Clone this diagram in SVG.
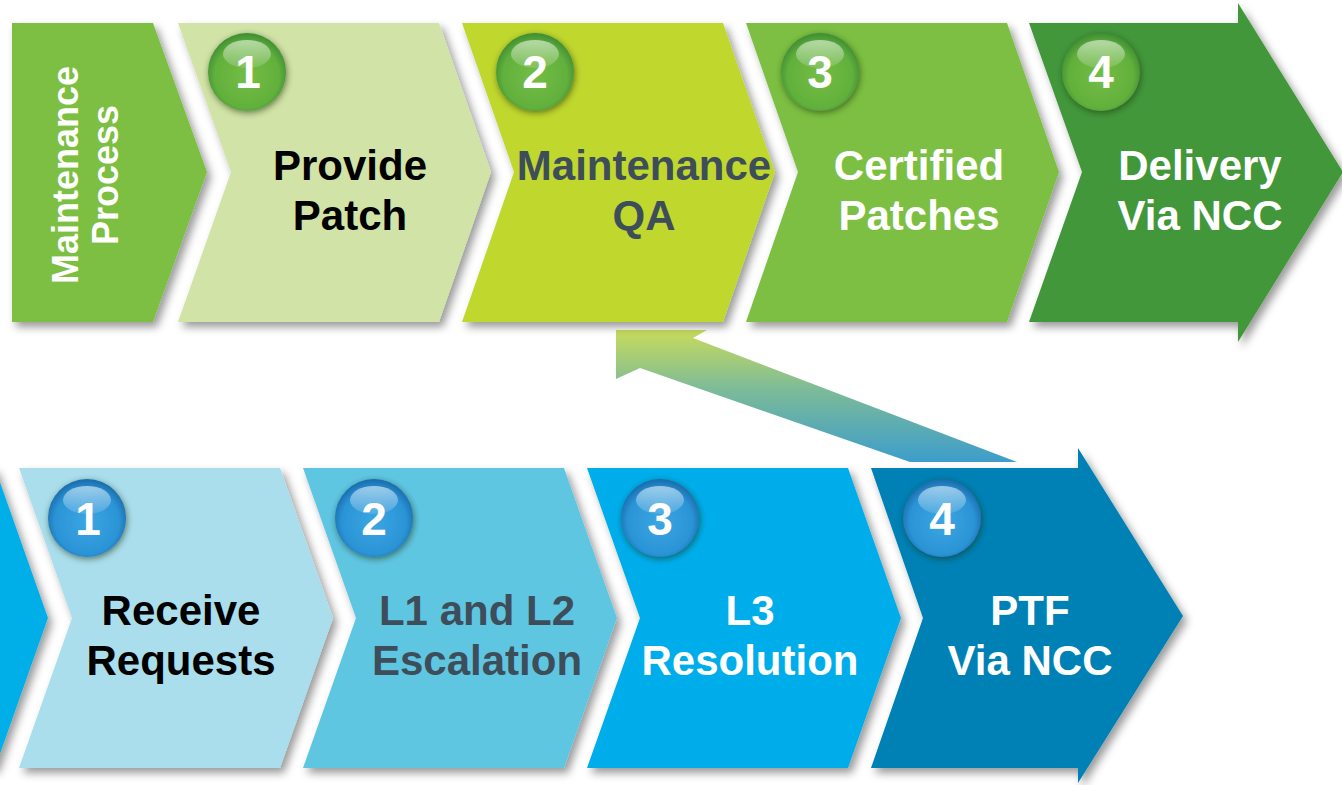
<svg xmlns="http://www.w3.org/2000/svg" width="1342" height="785" viewBox="0 0 1342 785">
<defs>
<style>
.t{font-family:"Liberation Sans",Arial,sans-serif;font-weight:bold;font-size:42px;text-anchor:middle}
.n{font-family:"Liberation Sans",Arial,sans-serif;font-weight:bold;font-size:46px;text-anchor:middle;fill:#fff}
.w{fill:#fff}.k{fill:#000}.s{fill:#3e4d5a}
.sh{filter:url(#shadow)}
</style>
<filter id="shadow" x="-10%" y="-10%" width="125%" height="125%">
<feDropShadow dx="4" dy="5" stdDeviation="4" flood-color="#000" flood-opacity="0.4"/>
</filter>
<filter id="cshadow" x="-30%" y="-30%" width="160%" height="160%">
<feDropShadow dx="1" dy="2" stdDeviation="3" flood-color="#1a3010" flood-opacity="0.6"/>
</filter>
<radialGradient id="gG" cx="0.5" cy="0.55" r="0.55">
<stop offset="0" stop-color="#74bd46"/><stop offset="0.75" stop-color="#62b03c"/><stop offset="1" stop-color="#3e8d34"/>
</radialGradient>
<radialGradient id="gB" cx="0.5" cy="0.55" r="0.55">
<stop offset="0" stop-color="#3aa6e2"/><stop offset="0.75" stop-color="#2b94d6"/><stop offset="1" stop-color="#1a6aaa"/>
</radialGradient>
<linearGradient id="hl" x1="0" y1="0" x2="0" y2="1">
<stop offset="0" stop-color="#fff" stop-opacity="0.55"/><stop offset="1" stop-color="#fff" stop-opacity="0.12"/>
</linearGradient>
<linearGradient id="conn" x1="0" y1="330" x2="0" y2="462" gradientUnits="userSpaceOnUse">
<stop offset="0" stop-color="#c8db5c"/><stop offset="0.45" stop-color="#7dbb98"/><stop offset="1" stop-color="#3d9dcb"/>
</linearGradient>
</defs>

<g id="connectors">
<polygon points="616,330 707,330 693,338 1017,462 910,462 640,368 616,379" fill="url(#conn)"/>
</g>

<g id="maintenance-process">
<path class="sh" d="M12,23 L153,23 L207,172 L153,322 L12,322 Z" fill="#7bbf42"/>
<text class="t w" transform="translate(78,175) rotate(-90)"><tspan x="0" y="0" font-size="36">Maintenance</tspan><tspan x="0" y="40" font-size="36">Process</tspan></text>
</g>

<g id="provide-patch">
<path class="sh" d="M178,23 L439,23 L491,172 L439,322 L178,322 L231,172 Z" fill="#d1e3a6"/>
<g filter="url(#cshadow)"><circle cx="247" cy="72" r="39" fill="url(#gG)"/></g>
<ellipse cx="247" cy="54" rx="24" ry="14" fill="url(#hl)"/>
<text class="n" x="248" y="88">1</text>
<text class="t k" x="350" y="180">Provide</text>
<text class="t k" x="350" y="230">Patch</text>
</g>

<g id="maintenance-qa">
<path class="sh" d="M462,23 L723,23 L775,172 L723,322 L462,322 L514,172 Z" fill="#c0d72f"/>
<g filter="url(#cshadow)"><circle cx="535" cy="72" r="39" fill="url(#gG)"/></g>
<ellipse cx="535" cy="54" rx="24" ry="14" fill="url(#hl)"/>
<text class="n" x="535" y="88">2</text>
<text class="t s" x="644" y="180">Maintenance</text>
<text class="t s" x="644" y="230">QA</text>
</g>

<g id="certified-patches">
<path class="sh" d="M746,23 L1007,23 L1059,172 L1007,322 L746,322 L798,172 Z" fill="#7bbf42"/>
<g filter="url(#cshadow)"><circle cx="820" cy="72" r="39" fill="url(#gG)"/></g>
<ellipse cx="820" cy="54" rx="24" ry="14" fill="url(#hl)"/>
<text class="n" x="820" y="88">3</text>
<text class="t w" x="919" y="180">Certified</text>
<text class="t w" x="919" y="230">Patches</text>
</g>

<g id="delivery-via-ncc">
<path class="sh" d="M1029,23 L1238,23 L1238,3 L1343,172 L1238,342 L1238,322 L1029,322 L1082,172 Z" fill="#43973a"/>
<g filter="url(#cshadow)"><circle cx="1101" cy="72" r="39" fill="url(#gG)"/></g>
<ellipse cx="1101" cy="54" rx="24" ry="14" fill="url(#hl)"/>
<text class="n" x="1101" y="88">4</text>
<text class="t w" x="1200" y="180">Delivery</text>
<text class="t w" x="1200" y="230">Via NCC</text>
</g>

<g id="support-start">
<path class="sh" d="M-60,468 L-5,468 L48,618 L-5,768 L-60,768 Z" fill="#00aee8"/>
</g>

<g id="receive-requests">
<path class="sh" d="M19,468 L280,468 L333,618 L280,768 L19,768 L72,618 Z" fill="#aadeec"/>
<g filter="url(#cshadow)"><circle cx="87" cy="518" r="39" fill="url(#gB)"/></g>
<ellipse cx="87" cy="500" rx="24" ry="14" fill="url(#hl)"/>
<text class="n" x="88" y="535">1</text>
<text class="t k" x="181" y="625">Receive</text>
<text class="t k" x="181" y="675">Requests</text>
</g>

<g id="l1-l2-escalation">
<path class="sh" d="M303,468 L564,468 L617,618 L564,768 L303,768 L356,618 Z" fill="#5ec6e2"/>
<g filter="url(#cshadow)"><circle cx="374" cy="518" r="39" fill="url(#gB)"/></g>
<ellipse cx="374" cy="500" rx="24" ry="14" fill="url(#hl)"/>
<text class="n" x="374" y="535">2</text>
<text class="t s" x="477" y="625">L1 and L2</text>
<text class="t s" x="477" y="675">Escalation</text>
</g>

<g id="l3-resolution">
<path class="sh" d="M587,468 L848,468 L901,618 L848,768 L587,768 L640,618 Z" fill="#00adeb"/>
<g filter="url(#cshadow)"><circle cx="660" cy="518" r="39" fill="url(#gB)"/></g>
<ellipse cx="660" cy="500" rx="24" ry="14" fill="url(#hl)"/>
<text class="n" x="660" y="535">3</text>
<text class="t w" x="750" y="625">L3</text>
<text class="t w" x="750" y="675">Resolution</text>
</g>

<g id="ptf-via-ncc">
<path class="sh" d="M871,468 L1078,468 L1078,448 L1183,616 L1078,783 L1078,768 L871,768 L923,618 Z" fill="#0081b5"/>
<g filter="url(#cshadow)"><circle cx="942" cy="518" r="39" fill="url(#gB)"/></g>
<ellipse cx="942" cy="500" rx="24" ry="14" fill="url(#hl)"/>
<text class="n" x="942" y="535">4</text>
<text class="t w" x="1030" y="625">PTF</text>
<text class="t w" x="1030" y="675">Via NCC</text>
</g>
</svg>
